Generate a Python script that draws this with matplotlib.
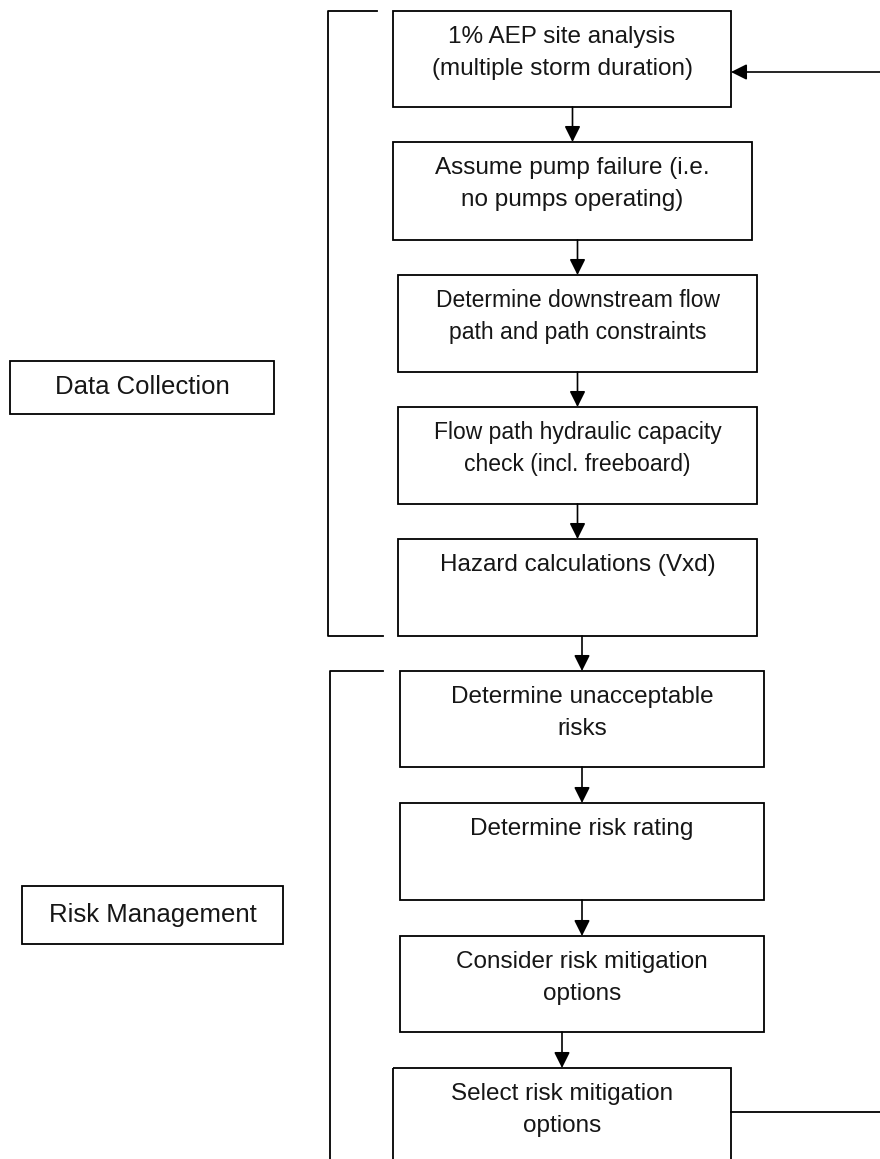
import matplotlib.pyplot as plt
from matplotlib.patches import Rectangle

plt.rcParams['font.family'] = ['Liberation Sans', 'DejaVu Sans']

# flowchart content
step_labels = [
    "1% AEP site analysis\n(multiple storm duration)",
    "Assume pump failure (i.e.\nno pumps operating)",
    "Determine downstream flow\npath and path constraints",
    "Flow path hydraulic capacity\ncheck (incl. freeboard)",
    "Hazard calculations (Vxd)",
    "Determine unacceptable\nrisks",
    "Determine risk rating",
    "Consider risk mitigation\noptions",
    "Select risk mitigation\noptions",
]
step_sizes = [17.5, 17.5, 16.5, 16.5, 17.5, 17.5, 17.5, 17.5, 17.5]
group_labels = ["Data Collection", "Risk Management"]

# layout in pixels (y down)
box_x = [(393, 731), (393, 752), (398, 757), (398, 757), (398, 757),
         (400, 764), (400, 764), (400, 764), (393, 731)]
box_y = [(11, 107), (142, 240), (275, 372), (407, 504), (539, 636),
         (671, 767), (803, 900), (936, 1032), (1068, 1168)]
group_box = [(10, 274, 361, 414), (22, 283, 886, 944)]

W, H = 880, 1159
fig = plt.figure(figsize=(W / 100, H / 100), dpi=100)
ax = fig.add_axes([0, 0, 1, 1])
ax.set_xlim(0, W)
ax.set_ylim(H, 0)
ax.axis('off')

lw = 1.3
ink = '#161616'

def box(x0, x1, y0, y1):
    ax.add_patch(Rectangle((x0, y0), x1 - x0, y1 - y0, fill=False,
                           edgecolor='black', linewidth=lw))

def arrow(x0, y0, x1, y1):
    ax.annotate('', xy=(x1, y1), xytext=(x0, y0),
                arrowprops=dict(arrowstyle='-|>', color='black', lw=1.2,
                                mutation_scale=24, shrinkA=0, shrinkB=0))

for i, lab in enumerate(step_labels):
    (x0, x1), (y0, y1) = box_x[i], box_y[i]
    box(x0, x1, y0, y1)
    for j, line in enumerate(lab.split('\n')):
        ax.text((x0 + x1) / 2, y0 + 32 + j * 32, line, ha='center',
                va='baseline', fontsize=step_sizes[i], color=ink)
    if i < len(step_labels) - 1:
        nx = box_x[i + 1]
        cx = (nx[0] + nx[1]) / 2
        arrow(cx, y1, cx, box_y[i + 1][0])

for (x0, x1, y0, y1), lab in zip(group_box, group_labels):
    box(x0, x1, y0, y1)
    ax.text((x0 + x1) / 2, (y0 + y1) / 2, lab, ha='center', va='center',
            fontsize=18.5, color=ink)

# brackets
ax.plot([377, 328, 328, 383], [11, 11, 636, 636], color='black', lw=lw)
ax.plot([383, 330, 330], [671, 671, H + 5], color='black', lw=lw)

# feedback loop
ax.plot([731, W + 5], [1112, 1112], color='black', lw=lw)
arrow(W + 5, 72, 731, 72)

fig.savefig('out.png', dpi=100)
